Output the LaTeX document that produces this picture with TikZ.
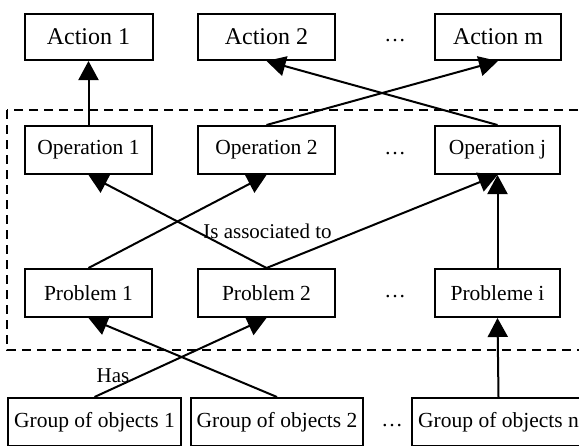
\documentclass[tikz,border=0pt]{standalone}
\usepackage{fontspec}
\setmainfont{Liberation Serif}
\usetikzlibrary{arrows.meta}

\tikzset{
  box/.style={draw, line width=2pt, inner sep=0pt, font=\fontsize{21.5}{24}\selectfont},
  actbox/.style={box, font=\fontsize{24}{27}\selectfont},
  dots/.style={inner sep=0pt, font=\fontsize{21.5}{24}\selectfont},
  link/.style={line width=2pt, -{Triangle[length=19pt,width=20pt]}},
  lbl/.style={inner sep=0pt, font=\fontsize{21}{24}\selectfont},
  frame/.style={draw, line width=2pt, dash pattern=on 9pt off 6pt},
}

\begin{document}
\begin{tikzpicture}[x=1pt,y=-1pt]
  \useasboundingbox (0,0) rectangle (579,445);
  \clip (0,0) rectangle (579,445);

  % dashed frame around operations and problems
  \draw[frame] (7,110) rectangle (600,350);

  % actions
  \node[actbox, minimum width=128pt, minimum height=46pt] (a1) at (88.5,37) {Action 1};
  \node[actbox, minimum width=137pt, minimum height=46pt] (a2) at (266.5,37) {Action 2};
  \node[dots] (ad) at (395,37) {\vphantom{Ag}\dots};
  \node[actbox, minimum width=126pt, minimum height=46pt] (am) at (498,37) {Action m};

  % operations
  \node[box, minimum width=127pt, minimum height=48pt] (o1) at (88.5,150) {Operation 1};
  \node[box, minimum width=137pt, minimum height=48pt] (o2) at (266.5,150) {Operation 2};
  \node[dots] (od) at (395,150) {\vphantom{Ag}\dots};
  \node[box, minimum width=125pt, minimum height=48pt] (oj) at (497.5,150) {Operation j};

  % problems
  \node[box, minimum width=127pt, minimum height=48pt] (p1) at (88.5,293) {Problem 1};
  \node[box, minimum width=137pt, minimum height=48pt] (p2) at (266.5,293) {Problem 2};
  \node[dots] (pd) at (395,293) {\vphantom{Ag}\dots};
  \node[box, minimum width=125pt, minimum height=48pt] (pi) at (497.5,293) {Probleme i};

  % groups of objects
  \node[box, minimum width=173pt, minimum height=48pt] (g1) at (94.5,422) {Group of objects 1};
  \node[box, minimum width=172pt, minimum height=48pt] (g2) at (277,422) {Group of objects 2};
  \node[dots] (gd) at (392,422) {\vphantom{Ag}\dots};
  \node[box, minimum width=173pt, minimum height=48pt] (gn) at (498.5,422) {Group of objects n};

  % operations -> actions
  \draw[link] (o1.north) -- (a1.south);
  \draw[link] (o2.north) -- (am.south);
  \draw[link] (oj.north) -- (a2.south);

  % problems -> operations
  \draw[link] (p1.north) -- (o2.south);
  \draw[link] (p2.north) -- (o1.south);
  \draw[link] (p2.north) -- (oj.south);
  \draw[link] (pi.north) -- (oj.south);

  % groups -> problems
  \draw[link] (g1.north) -- (p2.south);
  \draw[link] (g2.north) -- (p1.south);
  \draw[link] (gn.north) -- (pi.south);

  % relation labels
  \node[lbl] (assoc) at (267.5,231) {Is associated to};
  \node[lbl] (has) at (113,376) {Has};
\end{tikzpicture}
\end{document}
